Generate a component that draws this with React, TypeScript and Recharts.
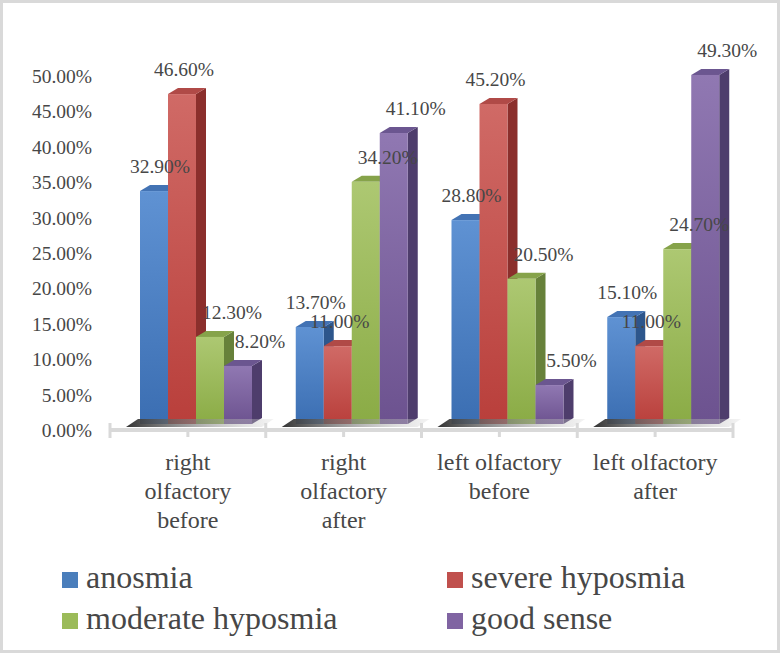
import React from "react";
import { BarChart, Bar, XAxis, YAxis, LabelList } from "recharts";

// data (percent)
const categories = [
  "right olfactory before",
  "right olfactory after",
  "left olfactory before",
  "left olfactory after",
];
const anosmia = [32.9, 13.7, 28.8, 15.1];
const severeHyposmia = [46.6, 11.0, 45.2, 11.0];
const moderateHyposmia = [12.3, 34.2, 20.5, 24.7];
const goodSense = [8.2, 41.1, 5.5, 49.3];
const yTicks = [0, 5, 10, 15, 20, 25, 30, 35, 40, 45, 50];

const series = [
  { key: "anosmia", name: "anosmia", values: anosmia, light: "#5f92d3", dark: "#3b6eb2", top: "#4373b4", side: "#2d568c", swatch: "#4a7ebb", labelDx: 6 },
  { key: "severe", name: "severe hyposmia", values: severeHyposmia, light: "#d06a66", dark: "#b93f3b", top: "#b04a47", side: "#8b2f2c", swatch: "#c0504d", labelDx: 2 },
  { key: "moderate", name: "moderate hyposmia", values: moderateHyposmia, light: "#adc872", dark: "#8aab45", top: "#86a34a", side: "#67813a", swatch: "#9bbb59", labelDx: 22 },
  { key: "good", name: "good sense", values: goodSense, light: "#9078b2", dark: "#6c528f", top: "#6b5690", side: "#4e3d6c", swatch: "#8064a2", labelDx: 22 },
];

const data = categories.map((c, i) => {
  const row: Record<string, any> = { name: c };
  series.forEach((s) => (row[s.key] = s.values[i]));
  return row;
});

const W = 783;
const H = 655;
const M = { top: 70, right: 50, left: 0, bottom: 121 };
const Y_W = 110;
const X_H = 110;
const BAND = (W - M.left - M.right - Y_W) / categories.length;
const DX = 10; // 3d depth
const DY = 6;
const SHIFT = 8;
const FONT = '"Liberation Serif", "Times New Roman", serif';
const TEXT = "#474747";

let ctx: CanvasRenderingContext2D | null = null;
function wrap(label: string, size: number, maxW: number) {
  if (!ctx) ctx = document.createElement("canvas").getContext("2d");
  if (ctx) ctx.font = `${size}px ${FONT}`;
  const measure = (t: string) => (ctx ? ctx.measureText(t).width : t.length * size * 0.45);
  const words = label.split(" ");
  const lines: string[] = [];
  let cur = "";
  words.forEach((w) => {
    const next = cur ? cur + " " + w : w;
    if (cur && measure(next) > maxW) {
      lines.push(cur);
      cur = w;
    } else cur = next;
  });
  if (cur) lines.push(cur);
  return lines;
}

const makeShape = (s: any) => (props: any) => {
  const { x, y, width, height, index } = props;
  if (width == null || height == null) return null;
  const x0 = x + SHIFT;
  const id = `g-${s.key}-${index}`;
  return (
    <g>
      <defs>
        <linearGradient id={id} x1="0" y1="0" x2="0" y2="1">
          <stop offset="0%" stopColor={s.light} />
          <stop offset="100%" stopColor={s.dark} />
        </linearGradient>
      </defs>
      <polygon
        points={`${x0 + width},${y} ${x0 + width + DX},${y - DY} ${x0 + width + DX},${y + height - DY} ${x0 + width},${y + height}`}
        fill={s.side}
      />
      <polygon
        points={`${x0},${y} ${x0 + DX},${y - DY} ${x0 + width + DX},${y - DY} ${x0 + width},${y}`}
        fill={s.top}
      />
      <rect x={x0} y={y} width={width} height={height} fill={`url(#${id})`} />
    </g>
  );
};

const makeLabel = (s: any) => (props: any) => {
  const { x, y, width, value } = props;
  return (
    <text
      x={x + width / 2 + SHIFT + s.labelDx}
      y={y - 18}
      textAnchor="middle"
      fontSize={19.5}
      fontFamily={FONT}
      fill={TEXT}
    >
      {Number(value).toFixed(2)}%
    </text>
  );
};

const XTick = (props: any) => {
  const { x, y, payload, index } = props;
  const lines = wrap(String(payload.value), 24, 132);
  const x0 = x - BAND / 2;
  const base = y;
  const last = index === categories.length - 1;
  return (
    <g>
      <defs>
        <linearGradient id={`floor-${index}`} x1="0" y1="0" x2="1" y2="0">
          <stop offset="0%" stopColor="#333333" />
          <stop offset="100%" stopColor="#d8d8d8" stopOpacity={0.3} />
        </linearGradient>
      </defs>
      <polygon
        points={`${x0 + 16},${base + 3} ${x0 + 28},${base - 5} ${x0 + BAND + 8},${base - 5} ${x0 + BAND - 4},${base + 3}`}
        fill={`url(#floor-${index})`}
      />
      <line x1={x0} x2={x0 + BAND} y1={base + 6} y2={base + 6} stroke="#d9d9d9" strokeWidth={4} />
      <line x1={x0} x2={x0} y1={base - 1} y2={base + 14} stroke="#d9d9d9" strokeWidth={3} />
      {last && (
        <line x1={x0 + BAND} x2={x0 + BAND} y1={base - 1} y2={base + 14} stroke="#d9d9d9" strokeWidth={3} />
      )}
      <line x1={x} x2={x} y1={base + 6} y2={base + 13} stroke="#d9d9d9" strokeWidth={3} />
      {lines.map((l, i) => (
        <text
          key={i}
          x={x}
          y={base + 46 + i * 29}
          textAnchor="middle"
          fontSize={24}
          fontFamily={FONT}
          fill={TEXT}
        >
          {l}
        </text>
      ))}
    </g>
  );
};

export default function App() {
  return (
    <div style={{ position: "absolute", left: 0, top: 0, width: W, height: H, background: "#fff" }}>
      <div
        style={{
          position: "absolute",
          left: 0,
          top: 0,
          width: 780,
          height: 653,
          boxSizing: "border-box",
          border: "3px solid #d9d9d9",
        }}
      />
      <div style={{ position: "absolute", left: 0, top: 0 }}>
        <BarChart width={W} height={H} data={data} margin={M} barGap={0} barSize={28}>
          <XAxis
            dataKey="name"
            height={X_H}
            axisLine={false}
            tickLine={false}
            tickSize={0}
            tickMargin={0}
            interval={0}
            tick={<XTick />}
          />
          <YAxis
            width={Y_W}
            domain={[0, 50]}
            ticks={yTicks}
            tickFormatter={(v: number) => v.toFixed(2) + "%"}
            axisLine={false}
            tickLine={false}
            tickSize={0}
            tickMargin={18}
            tick={{ fontSize: 19.5, fill: TEXT, fontFamily: FONT, dy: 6 }}
          />
          {series.map((s) => (
            <Bar key={s.key} dataKey={s.key} name={s.name} shape={makeShape(s)} isAnimationActive={false}>
              <LabelList dataKey={s.key} content={makeLabel(s)} />
            </Bar>
          ))}
        </BarChart>
      </div>
      <div
        style={{
          position: "absolute",
          left: 62,
          top: 557,
          display: "grid",
          gridTemplateColumns: "385px 300px",
          fontFamily: FONT,
          fontSize: 32,
          lineHeight: "41px",
          color: TEXT,
        }}
      >
        {series.map((s) => (
          <div key={s.key} style={{ display: "flex", alignItems: "center", whiteSpace: "nowrap" }}>
            <span style={{ width: 16, height: 16, background: s.swatch, marginRight: 8, marginTop: 4 }} />
            <span>{s.name}</span>
          </div>
        ))}
      </div>
    </div>
  );
}
